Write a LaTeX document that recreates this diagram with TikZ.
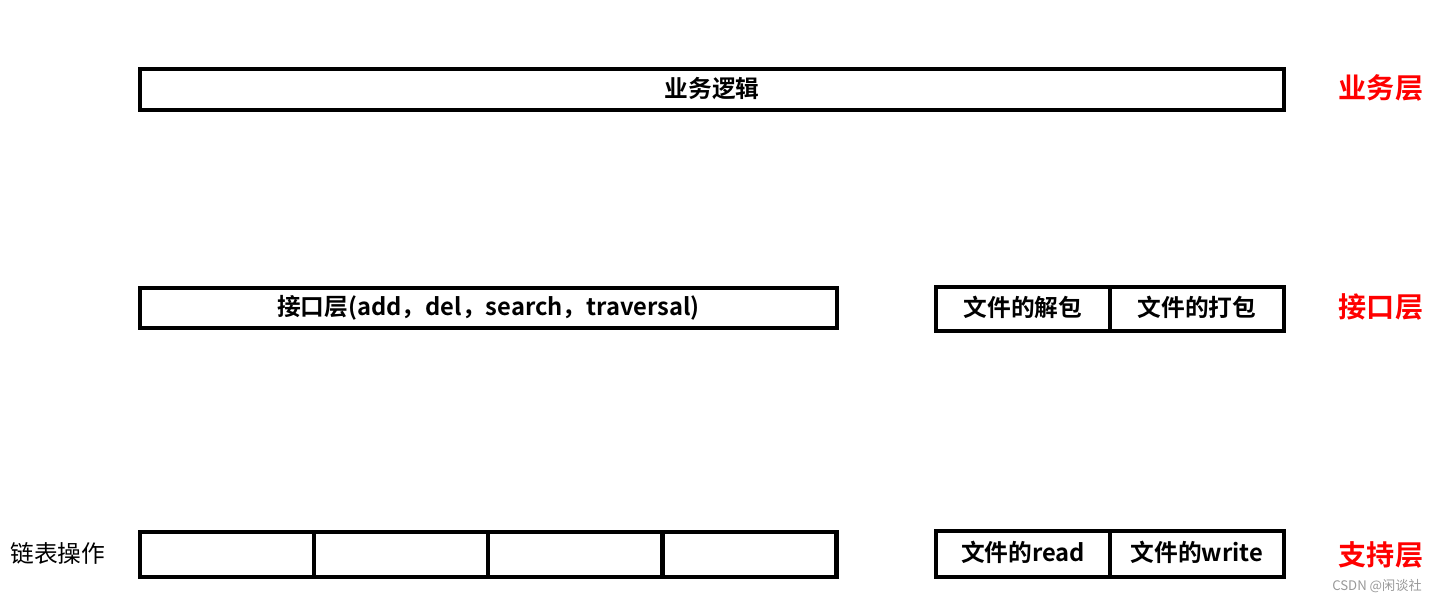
\documentclass[tikz,border=0pt]{standalone}
\usepackage{fontspec}
\setmainfont{Noto Sans CJK SC}[BoldFont={Noto Sans CJK SC Bold}]
\begin{document}
\begin{tikzpicture}[
  x=0.02cm, y=-0.02cm,
  box/.style={rectangle, draw, line width=2.3pt, inner sep=0pt, text height=1.0em, text depth=0.1em, font=\fontsize{13.5}{14}\selectfont\bfseries},
  layer/.style={font=\fontsize{16}{18}\selectfont\bfseries, text=red},
  side/.style={font=\fontsize{13.5}{14}\selectfont}
]
\useasboundingbox (0,0) rectangle (1443,603);

% Business layer
\node[box, minimum width=22.88cm, minimum height=0.82cm] (logic) at (712,89.5) {业务逻辑};
\node[layer] (biz) at (1381,88) {业务层};

% Interface layer
\node[box, minimum width=13.94cm, minimum height=0.8cm] (api) at (488.5,308) {接口层(add，del，search，traversal)};
\node[box, minimum width=3.48cm, minimum height=0.88cm] (unpack) at (1023,309) {文件的解包};
\node[box, minimum width=3.48cm, minimum height=0.88cm] (pack) at (1197,309) {文件的打包};
\node[layer] (iface) at (1381,307) {接口层};

% Support layer
\node[side] (listop) at (58,553) {链表操作};
\node[box, minimum width=3.48cm, minimum height=0.9cm] (cell1) at (227,554.5) {};
\node[box, minimum width=3.48cm, minimum height=0.9cm] (cell2) at (401,554.5) {};
\node[box, minimum width=3.48cm, minimum height=0.9cm] (cell3) at (575,554.5) {};
\node[box, minimum width=3.48cm, minimum height=0.9cm] (cell4) at (749.5,554.5) {};
\node[box, minimum width=3.48cm, minimum height=0.92cm] (fread) at (1023,554) {文件的read};
\node[box, minimum width=3.48cm, minimum height=0.92cm] (fwrite) at (1197,554) {文件的write};
\node[layer] (support) at (1381,555) {支持层};

% Watermark
\node[font=\fontsize{7.5}{8}\selectfont, text=black!40] (mark) at (1377,586) {CSDN @闲谈社};

\end{tikzpicture}
\end{document}
